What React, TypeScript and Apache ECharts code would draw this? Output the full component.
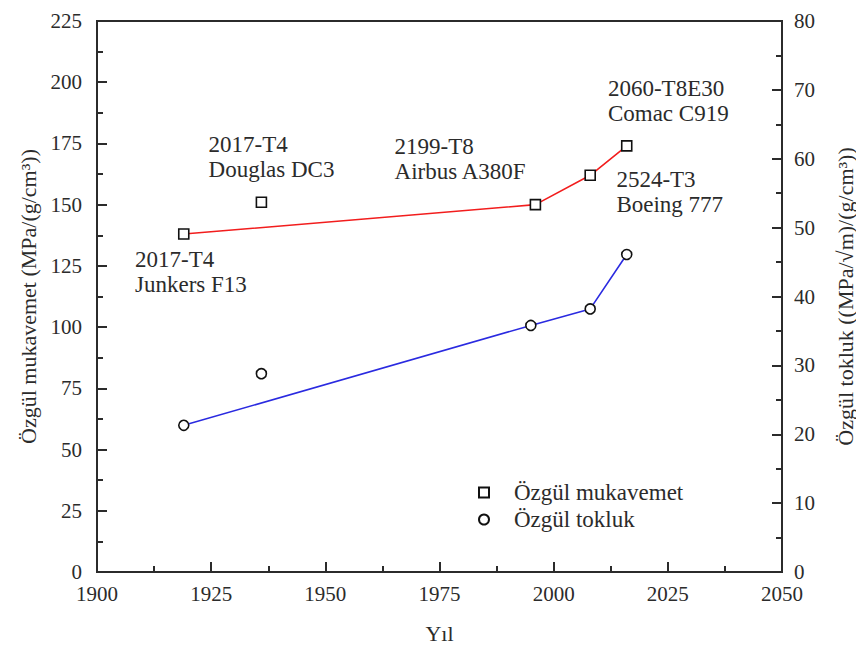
import React, { useEffect, useRef } from "react";
import * as echarts from "echarts";

// Specific strength (left axis) by year
const strengthYears = [1919, 1936, 1996, 2008, 2016];
const strengthValues = [138, 151, 150, 162, 174];
// Specific toughness (right axis) by year
const toughnessYears = [1919, 1936, 1995, 2008, 2016];
const toughnessValues = [21.3, 28.8, 35.8, 38.2, 46.1];

// Trend lines skip the DC3 point
const strengthTrendIdx = [0, 2, 3, 4];
const toughnessTrendIdx = [0, 2, 3, 4];

const pointNames = [
  "2017-T4\nJunkers F13",
  "2017-T4\nDouglas DC3",
  "2199-T8\nAirbus A380F",
  "2524-T3\nBoeing 777",
  "2060-T8E30\nComac C919",
];
// label offsets relative to the marker box
const labelOffsets: [number, number][] = [
  [-43, 19],
  [-47, -64],
  [-135, -65],
  [32, -2],
  [-13, -64],
];

const xTicks = { min: 1900, max: 2050, interval: 25 };
const leftTicks = { min: 0, max: 225, interval: 25 };
const rightTicks = { min: 0, max: 80, interval: 10 };

const FONT = "Liberation Serif";
const INK = "#2b2b2b";
const FS_TICK = 21;
const FS_TEXT = 23;

export default function App() {
  const ref = useRef<HTMLDivElement>(null);
  useEffect(() => {
    if (!ref.current) return;
    const chart = echarts.init(ref.current, undefined, { renderer: "svg" });
    const axisCommon = {
      axisLine: { show: true, lineStyle: { color: INK, width: 2 } },
      axisTick: { show: true, inside: true, length: 10, lineStyle: { color: INK, width: 2 } },
      minorTick: { show: true, splitNumber: 2, length: 6, lineStyle: { color: INK, width: 2 } },
      splitLine: { show: false },
      nameTextStyle: { color: INK, fontFamily: FONT, fontSize: 22 },
    };
    const tickLabel = {
      color: INK,
      fontFamily: FONT,
      fontSize: FS_TICK,
      lineHeight: 16,
      formatter: (v: number) => String(v),
    };
    // y tick labels sit a little above their ticks
    const yTickLabel = { ...tickLabel, padding: [0, 0, 6, 0] };
    chart.setOption({
      animation: false,
      backgroundColor: "#fff",
      grid: {
        left: 97,
        right: 74,
        top: 21,
        bottom: 76,
        show: true,
        borderColor: INK,
        borderWidth: 2,
        containLabel: false,
      },
      legend: {
        data: ["Özgül mukavemet", "Özgül tokluk"],
        orient: "vertical",
        left: 473,
        top: 476,
        itemWidth: 10,
        itemHeight: 10,
        itemGap: 4,
        textStyle: {
          color: INK,
          fontFamily: FONT,
          fontSize: FS_TEXT,
          padding: [0, 0, 0, 20],
        },
      },
      xAxis: {
        type: "value",
        ...axisCommon,
        min: xTicks.min,
        max: xTicks.max,
        interval: xTicks.interval,
        name: "Yıl",
        nameLocation: "middle",
        nameGap: 50,
        axisLabel: { ...tickLabel, margin: 14 },
      },
      yAxis: [
        {
          type: "value",
          ...axisCommon,
          position: "left",
          min: leftTicks.min,
          max: leftTicks.max,
          interval: leftTicks.interval,
          name: "Özgül mukavemet (MPa/(g/cm³))",
          nameLocation: "middle",
          nameRotate: 90,
          nameGap: 58,
          axisLabel: { ...yTickLabel, margin: 15 },
        },
        {
          type: "value",
          ...axisCommon,
          position: "right",
          min: rightTicks.min,
          max: rightTicks.max,
          interval: rightTicks.interval,
          name: "Özgül tokluk ((MPa/√m)/(g/cm³))",
          nameLocation: "middle",
          nameRotate: 90,
          nameGap: 52,
          axisLabel: { ...yTickLabel, margin: 12 },
        },
      ],
      series: [
        {
          name: "strength-trend",
          type: "line",
          yAxisIndex: 0,
          data: strengthTrendIdx.map((i) => [strengthYears[i], strengthValues[i]]),
          showSymbol: false,
          symbol: "none",
          lineStyle: { color: "#f21d1d", width: 1.6 },
          z: 2,
        },
        {
          name: "toughness-trend",
          type: "line",
          yAxisIndex: 1,
          data: toughnessTrendIdx.map((i) => [toughnessYears[i], toughnessValues[i]]),
          showSymbol: false,
          symbol: "none",
          lineStyle: { color: "#2a2ae0", width: 1.6 },
          z: 2,
        },
        {
          name: "Özgül mukavemet",
          type: "scatter",
          yAxisIndex: 0,
          symbol: "rect",
          symbolSize: 10,
          itemStyle: { color: "#fff", borderColor: "#111", borderWidth: 1.6, opacity: 1 },
          label: {
            show: true,
            align: "left",
            verticalAlign: "top",
            color: INK,
            fontFamily: FONT,
            fontSize: FS_TEXT,
            lineHeight: 25,
          },
          data: strengthYears.map((y, i) => ({
            value: [y, strengthValues[i]],
            label: {
              formatter: pointNames[i],
              position: labelOffsets[i],
            },
          })),
          z: 3,
        },
        {
          name: "Özgül tokluk",
          type: "scatter",
          yAxisIndex: 1,
          symbol: "circle",
          symbolSize: 10,
          itemStyle: { color: "#fff", borderColor: "#111", borderWidth: 1.6, opacity: 1 },
          data: toughnessYears.map((y, i) => [y, toughnessValues[i]]),
          z: 3,
        },
      ],
    });
    return () => chart.dispose();
  }, []);
  return <div ref={ref} style={{ width: 864, height: 649, margin: -8 }} />;
}
